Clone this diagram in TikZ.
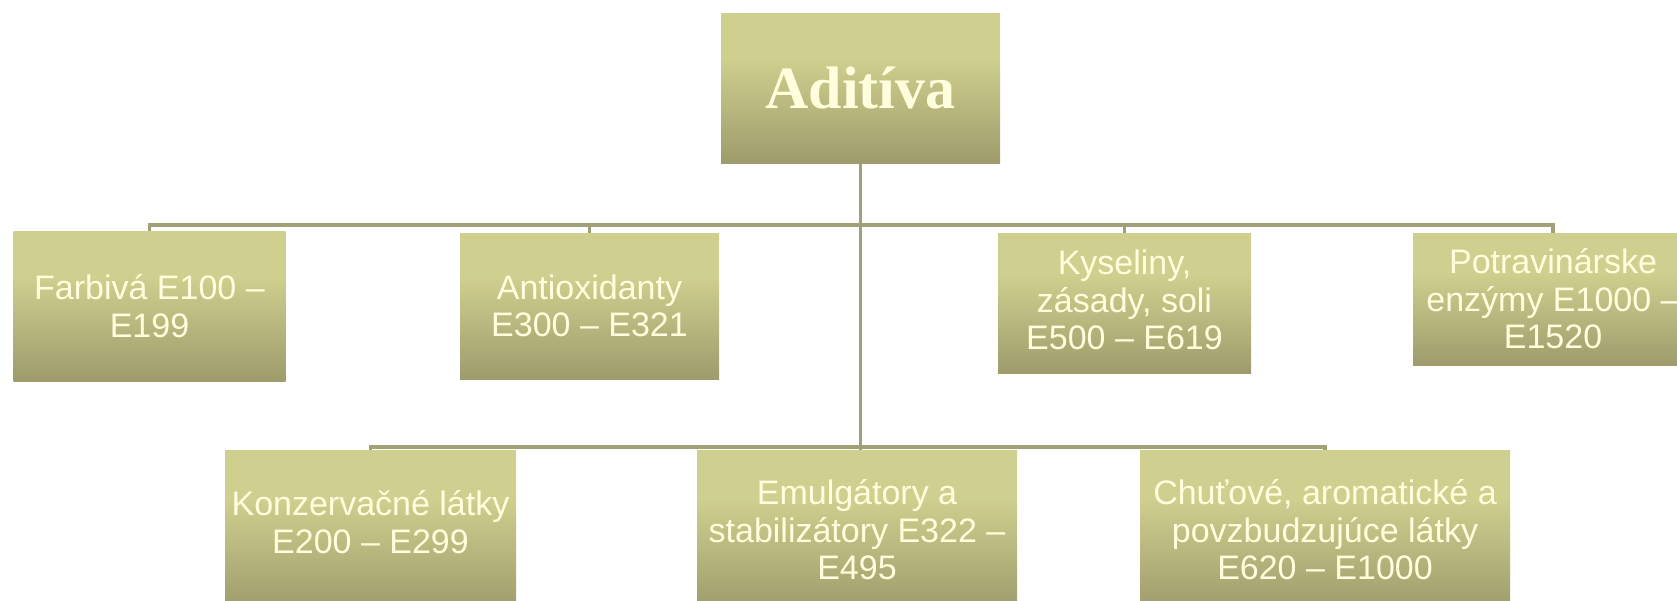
\documentclass[tikz,border=0pt]{standalone}
\usepackage{fontspec}
\setmainfont{Liberation Sans}
\newfontfamily\titlefont{Liberation Serif}
\definecolor{boxtop}{RGB}{207,207,143}
\definecolor{boxbot}{RGB}{158,156,108}
\definecolor{txtcol}{RGB}{255,255,221}
\definecolor{linecol}{RGB}{162,160,118}
\pgfdeclareverticalshading{boxshade}{100bp}{color(0bp)=(boxbot); color(25bp)=(boxbot); color(60bp)=(boxtop); color(100bp)=(boxtop)}
\tikzset{
  catbox/.style={shading=boxshade, draw=none, text=txtcol, align=center, inner sep=0pt,
    font=\fontsize{34}{37.5}\selectfont},
  cattext/.style={text=txtcol, align=center, inner sep=0pt,
    font=\fontsize{34}{37.5}\selectfont},
  conn/.style={draw=linecol, line width=3.5pt}
}
\begin{document}
\begin{tikzpicture}[x=1pt,y=1pt]
\useasboundingbox (0,0) rectangle (1677,-600);
\clip (0,0) rectangle (1677,-600);
\coordinate (upper) at (0,-225);
\coordinate (lower) at (0,-447);
% nodes
\node[catbox, minimum width=279pt, minimum height=150pt, font=\titlefont\bfseries\fontsize{60}{60}\selectfont] (top) at (860.5,-88) {Adit\'{\i}va};
\node[catbox, minimum width=272pt, minimum height=150pt] (farb) at (149.5,-306) {Farbiv\'a E100 --\\E199};
\node[catbox, minimum width=259pt, minimum height=146pt] (anti) at (589.5,-306) {Antioxidanty\\E300 -- E321};
\node[catbox, minimum width=253pt, minimum height=140pt] (kys) at (1124.5,-303) {};
\node[cattext] (kyst) at ([yshift=3pt]kys.center) {Kyseliny,\\z\'asady, soli\\E500 -- E619};
\node[catbox, minimum width=280pt, minimum height=132pt] (potr) at (1553,-299) {Potravin\'arske\\enz\'ymy E1000 --\\E1520};
\node[catbox, minimum width=291pt, minimum height=160pt] (konz) at (370.5,-530) {};
\node[cattext] (konzt) at ([yshift=8pt]konz.center) {Konzerva\v{c}n\'e l\'atky\\E200 -- E299};
\node[catbox, minimum width=320pt, minimum height=160pt] (emul) at (857,-530) {Emulg\'atory a\\stabiliz\'atory E322 --\\E495};
\node[catbox, minimum width=370pt, minimum height=160pt] (chut) at (1325,-530) {Chu\v{t}ov\'e, aromatick\'e a\\povzbudzuj\'uce l\'atky\\E620 -- E1000};
% edges
\draw[conn] (top.south) -- (top.south |- upper) -| (farb.north);
\draw[conn] (top.south) -- (top.south |- upper) -| (anti.north);
\draw[conn] (top.south) -- (top.south |- upper) -| (kys.north);
\draw[conn] (top.south) -- (top.south |- upper) -| (potr.north);
\draw[conn] (top.south) -- (top.south |- lower) -| (konz.north);
\draw[conn] (top.south) -- (top.south |- lower) -| (chut.north);
\draw[conn] (top.south) -- (emul.north -| top.south);
\end{tikzpicture}
\end{document}
